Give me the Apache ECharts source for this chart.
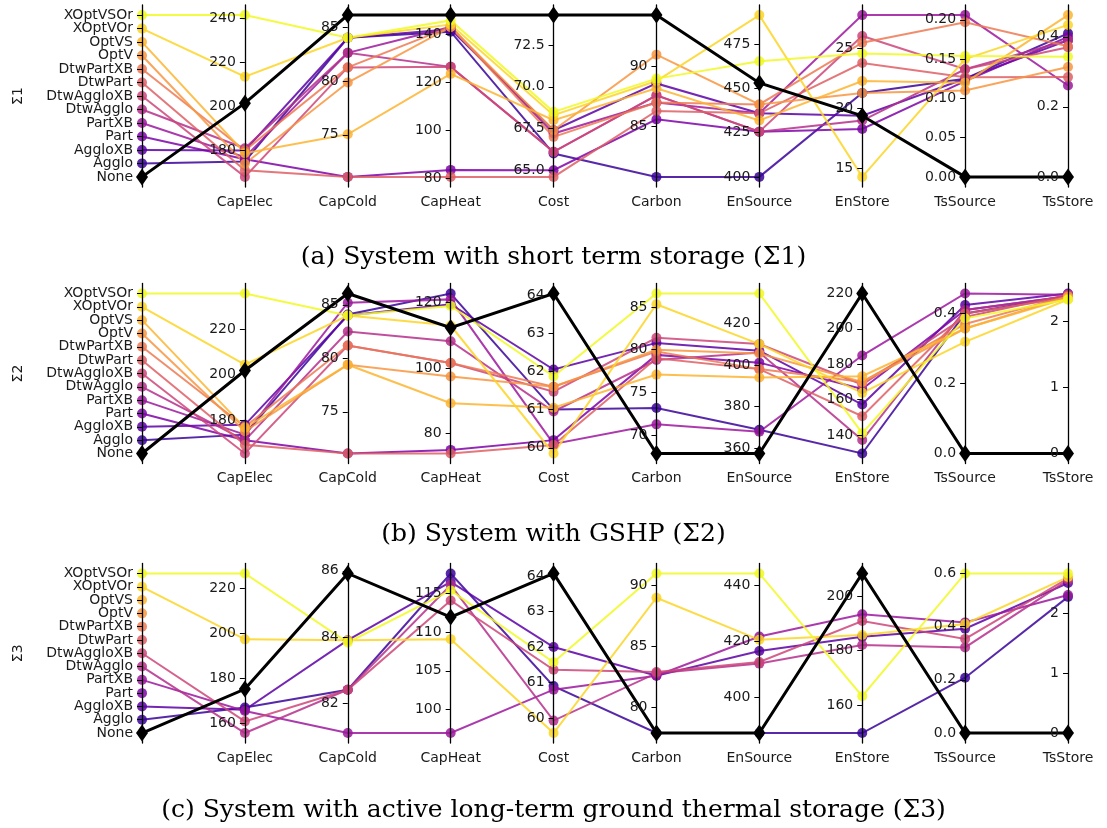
<!DOCTYPE html>
<html><head><meta charset="utf-8">
<script src="https://cdn.jsdelivr.net/npm/echarts@6/dist/echarts.min.js"></script>
<style>html,body{margin:0;padding:0;background:#fff}#c{width:1107px;height:828px}</style>
</head><body><div id="c"></div>
<script>
// ---------------- DATA ----------------
const categories = ['None','Agglo','AggloXB','Part','PartXB','DtwAgglo','DtwAggloXB','DtwPart','DtwPartXB','OptV','OptVS','XOptVOr','XOptVSOr'];
const dims = ['', 'CapElec','CapCold','CapHeat','Cost','Carbon','EnSource','EnStore','TsSource','TsStore'];

// rows in category order; columns: CapElec, CapCold, CapHeat, Cost, Carbon, EnSource, EnStore, TsSource, TsStore
const sigma1 = [
  [201.5, 86.1, 147.9, 74.3, 94.3, 453.2, 19.4, 0, 0],          // None
  [175, 84.0, 141, 66.0, 80.8, 400, 21.3, 0.125, 0.41],         // Agglo
  [180, 84.0, 142, 67.4, 88.6, 436, 19.4, 0.125, 0.39],         // AggloXB
  [176, 71.1, 83.6, 65.0, 85.6, 425.6, 18.3, 0.122, 0.40],      // Part
  [177, 82.6, 143, 67.2, 87.0, 436, 27.8, 0.206, 0.261],        // PartXB
  [181, 82.6, 126.4, 66.1, 87.6, 425.6, 19.0, 0.137, 0.39],     // DtwAgglo
  [168, 81.25, 126.4, 66.1, 87.6, 425.6, 26.06, 0.137, 0.37],   // DtwAggloXB
  [171, 71.1, 80.7, 64.6, 86.3, 436, 23.8, 0.127, 0.285],       // DtwPart
  [180, 81.25, 143, 67.0, 87.0, 441, 25.5, 0.197, 0.373],       // DtwPartXB
  [174, 79.85, 143, 67.4, 91.0, 441, 21.3, 0.11, 0.314],        // OptV
  [178.8, 75.05, 123.5, 68.0, 88.2, 432, 22.3, 0.12, 0.462],    // OptVS
  [213.5, 84.0, 144, 68.3, 88.8, 491.6, 14.3, 0.15, 0.434],     // XOptVOr
  [241.5, 84.0, 145.7, 68.5, 89.0, 465.5, 24.6, 0.154, 0.343]   // XOptVSOr
];
const sigma2 = [
  [201.7, 86.06, 112.3, 64.04, 67.9, 357.6, 220.0, 0, 0],       // None
  [173.5, 84.1, 122.8, 61.0, 73.2, 369, 129.5, 0.40, 2.38],     // Agglo
  [177.8, 84.0, 119.5, 62.05, 80.8, 406.8, 157.2, 0.424, 2.42], // AggloXB
  [171, 71.1, 74.9, 60.2, 79.4, 401.1, 166, 0.41, 2.38],        // Part
  [173.5, 85.2, 121, 60.1, 71.3, 368, 184.9, 0.457, 2.40],      // PartXB
  [171, 82.5, 108.2, 60.95, 78.8, 406, 137.1, 0.41, 2.38],      // DtwAgglo
  [165.2, 81.2, 101.5, 61.47, 81.4, 410, 168.5, 0.39, 2.40],    // DtwAggloXB
  [169, 71.1, 73.8, 60.07, 79.0, 398, 150.6, 0.40, 2.36],       // DtwPart
  [177, 81.2, 101.5, 61.6, 79.8, 398, 170, 0.37, 2.38],         // DtwPartXB
  [175, 79.4, 97.4, 61.6, 80.0, 405.5, 170, 0.357, 2.37],       // OptV
  [176.5, 79.4, 89.2, 61.05, 77.1, 394, 173.2, 0.357, 2.35],    // OptVS
  [204.3, 84.0, 113, 59.85, 85.3, 410, 163.8, 0.319, 2.33],     // XOptVOr
  [235.6, 84.0, 119, 61.87, 86.56, 434.2, 141, 0.386, 2.33]     // XOptVSOr
];
const N9 = [null,null,null,null,null,null,null,null,null];
const sigma3 = [
  [175.2, 85.92, 111.96, 64.07, 77.9, 387.3, 208.2, 0, 0],      // None
  [167, 82.4, 117.6, 60.9, 77.9, 387.3, 149.8, 0.208, 2.27],    // Agglo
  [166, 83.9, 116.5, 62.0, 82.6, 416.6, 185, 0.392, 2.50],      // AggloXB
  N9,                                                           // Part
  [165.4, 81.09, 96.95, 60.8, 82.6, 421.8, 193.3, 0.416, 2.30], // PartXB
  [155.6, 82.4, 116.1, 59.93, 82.8, 412.1, 182.0, 0.322, 2.55], // DtwAgglo
  [160.8, 82.4, 114.1, 61.36, 82.9, 412.7, 190.8, 0.354, 2.58], // DtwAggloXB
  N9, N9, N9, N9,                                               // DtwPart, DtwPartXB, OptV, OptVS
  [197.4, 83.9, 109.1, 59.58, 88.98, 420.6, 185.7, 0.41, 2.60], // XOptVOr
  [226.8, 83.83, 115.4, 61.57, 90.97, 444.3, 163.3, 0.6, 2.66]  // XOptVSOr
];

// tick labels per value axis (CapElec ... TsStore)
const ticks1 = [['180','200','220','240'],['75','80','85'],['80','100','120','140'],['65.0','67.5','70.0','72.5'],['85','90'],['400','425','450','475'],['15','20','25'],['0.00','0.05','0.10','0.15','0.20'],['0.0','0.2','0.4']];
const ticks2 = [['180','200','220'],['75','80','85'],['80','100','120'],['60','61','62','63','64'],['70','75','80','85'],['360','380','400','420'],['140','160','180','200','220'],['0.0','0.2','0.4'],['0','1','2']];
const ticks3 = [['160','180','200','220'],['82','84','86'],['100','105','110','115'],['60','61','62','63','64'],['80','85','90'],['400','420','440'],['160','180','200'],['0.0','0.2','0.4','0.6'],['0','1','2']];

const captions = ['(a) System with short term storage (\u03A31)', '(b) System with GSHP (\u03A32)', '(c) System with active long-term ground thermal storage (\u03A33)'];
const sigmaNames = ['\u03A31','\u03A32','\u03A33'];

// ---------------- STYLE ----------------
const palette = ['#000000','#3a049a','#5c01a6','#7e03a8','#9c179e','#b52f8c','#cc4778','#de5f65','#ed7953','#f89540','#fdb42f','#fbd524','#f0f921'];
const PAD = 0.0625;
const LEFT = 142, WIDTH = 926;
const layout = [
  {top: 5, height: 182, capTop: 240},
  {top: 283.5, height: 180, capTop: 517},
  {top: 563.5, height: 179.5, capTop: 793}
];
const FONT = 'DejaVu Sans';
const TXT = '#1a1a1a';

const panelValues = [sigma1, sigma2, sigma3];
const panelTicks = [ticks1, ticks2, ticks3];

function range(vals){
  const v = vals.filter(x => x != null);
  const lo = Math.min(...v), hi = Math.max(...v);
  const p = (hi - lo) * PAD;
  return [lo - p, hi + p];
}
const labelBase = {color: TXT, fontFamily: FONT, fontSize: 14};

const option = {
  animation: false,
  backgroundColor: '#fff',
  title: [], parallel: [], parallelAxis: [], grid: [], xAxis: [], yAxis: [], series: [], graphic: []
};

panelValues.forEach((rows, p) => {
  const L = layout[p];
  option.parallel.push({left: LEFT, width: WIDTH, top: L.top, height: L.height, layout: 'horizontal'});
  option.grid.push({left: LEFT, width: WIDTH, top: L.top, height: L.height});
  option.xAxis.push({
    gridIndex: p, type: 'value', min: 0, max: dims.length - 1, interval: 1,
    axisLine: {show: false}, axisTick: {show: false}, splitLine: {show: false},
    axisLabel: Object.assign({formatter: v => dims[v] || '', margin: 8}, labelBase)
  });
  const cols = [categories.map((c, i) => i)];
  for (let d = 1; d < dims.length; d++) cols.push(rows.map(r => r[d - 1]));
  const yAxisBase = option.yAxis.length;
  cols.forEach((col, d) => {
    const [mn, mx] = range(col);
    let tickVals, labelVals, fmt;
    if (d === 0) {
      tickVals = categories.map((c, i) => i);
      labelVals = tickVals.filter(i => i % 2 === 0);   // odd ones drawn by the twin y axis
      fmt = v => categories[Math.round(v)];
    } else {
      const tl = panelTicks[p][d - 1];
      tickVals = labelVals = tl.map(parseFloat);
      fmt = v => { const k = tl.find(s => Math.abs(parseFloat(s) - v) < 1e-9); return k === undefined ? '' : k; };
    }
    option.parallelAxis.push({
      dim: d, parallelIndex: p, type: 'value', min: mn, max: mx, name: '',
      axisLine: {show: true, lineStyle: {color: '#000', width: 1.3}},
      axisTick: {show: true, length: -5, customValues: tickVals, lineStyle: {color: '#000', width: 1}},
      axisLabel: Object.assign({show: true, margin: -9, align: 'right', verticalAlign: 'middle',
                  customValues: labelVals, formatter: fmt, showMinLabel: true, showMaxLabel: true}, labelBase),
      splitLine: {show: false}
    });
    if (d === 0) {
      option.yAxis.push({gridIndex: p, type: 'value', min: mn, max: mx, position: 'left',
        axisLine: {show: false}, axisTick: {show: false}, splitLine: {show: false},
        axisLabel: Object.assign({margin: 9, customValues: tickVals.filter(i => i % 2 === 1), formatter: fmt,
                                  showMinLabel: true, showMaxLabel: true}, labelBase)});
    } else {
      option.yAxis.push({gridIndex: p, type: 'value', min: mn, max: mx, show: false});
    }
  });

  rows.forEach((r, ci) => {
    const isBlack = ci === 0;
    option.series.push({
      type: 'parallel', parallelIndex: p, z: isBlack ? 4 : 2, silent: true,
      lineStyle: {color: palette[ci], width: isBlack ? 3 : 2, opacity: isBlack ? 1 : 0.85},
      data: [[ci].concat(r.map(v => v == null ? '-' : v))]
    });
  });
  cols.forEach((col, d) => {
    const colored = [], black = [];
    col.forEach((v, ci) => {
      if (v == null) return;
      if (ci === 0) black.push([d, v]);
      else colored.push({value: [d, v], itemStyle: {color: palette[ci]}});
    });
    option.series.push({type: 'scatter', xAxisIndex: p, yAxisIndex: yAxisBase + d, z: 3, silent: true,
      symbol: 'circle', symbolSize: 10, itemStyle: {opacity: 0.85}, data: colored});
    option.series.push({type: 'scatter', xAxisIndex: p, yAxisIndex: yAxisBase + d, z: 5, silent: true,
      symbol: 'diamond', symbolSize: [12, 17], itemStyle: {color: '#000', opacity: 1}, data: black});
  });

  option.title.push({text: captions[p], left: 'center', top: L.capTop,
    textStyle: {fontFamily: 'DejaVu Serif', fontWeight: 'normal', fontSize: 25, color: '#000'}});
  option.graphic.push({type: 'text', x: 18, y: L.top + L.height / 2, rotation: Math.PI / 2,
    style: {text: sigmaNames[p], font: '14px "DejaVu Sans"', fill: TXT, align: 'center', verticalAlign: 'middle'}});
});

const chart = echarts.init(document.getElementById('c'), null, {renderer: 'canvas'});
chart.setOption(option);
</script>
</body></html>
